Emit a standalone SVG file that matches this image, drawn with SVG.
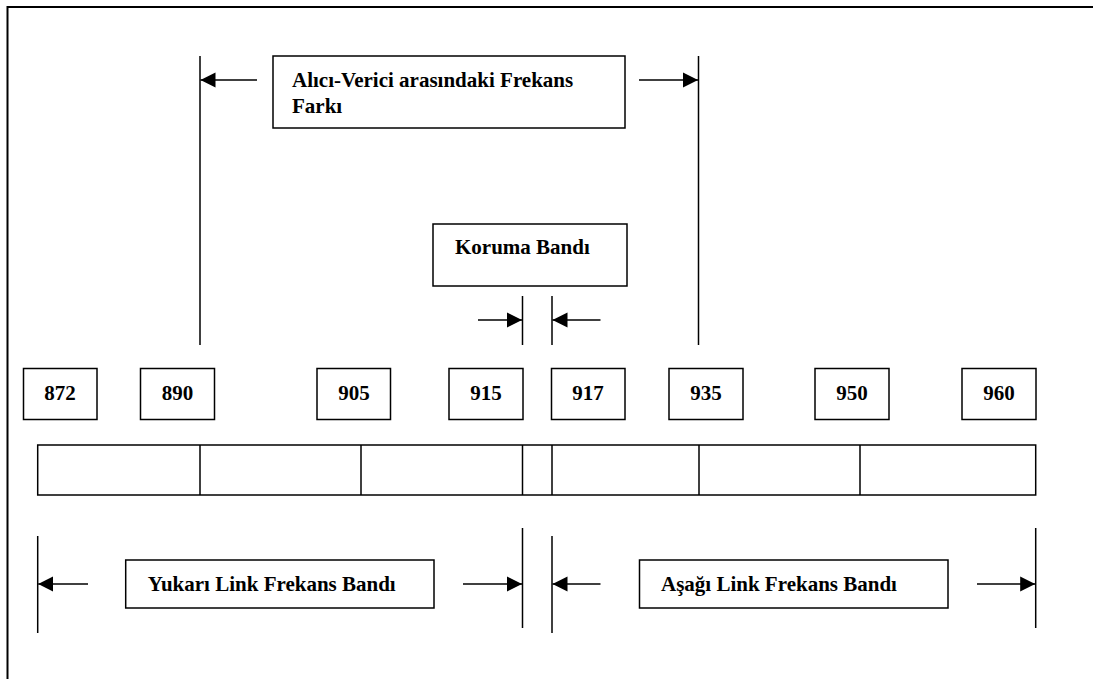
<svg xmlns="http://www.w3.org/2000/svg" width="1093" height="679" viewBox="0 0 1093 679">
<style>
.box{fill:#fff;stroke:#000;stroke-width:1.5}
.ln{stroke:#000;stroke-width:1.5;fill:none}
.t{font-family:"Liberation Serif","Times New Roman",serif;font-weight:bold;font-size:21px;fill:#000}
.n{text-anchor:middle}
</style>
<defs>
<marker id="ah" markerUnits="userSpaceOnUse" markerWidth="16" markerHeight="16" viewBox="0 0 16 16" refX="15" refY="8" orient="auto">
<path d="M0,0.5 L15,8 L0,15.5 Z" fill="#000"/>
</marker>
</defs>
<g id="frame">
<path class="ln" d="M7.5,679 V7 H1093" style="stroke-width:2"/>
</g>
<g id="connectors">
<line class="ln" x1="200" y1="56" x2="200" y2="345"/>
<line class="ln" x1="698.5" y1="56" x2="698.5" y2="345"/>
<line class="ln" x1="257" y1="80" x2="200.5" y2="80" marker-end="url(#ah)"/>
<line class="ln" x1="639" y1="80" x2="698" y2="80" marker-end="url(#ah)"/>
<line class="ln" x1="522.5" y1="296" x2="522.5" y2="345"/>
<line class="ln" x1="552" y1="296" x2="552" y2="345"/>
<line class="ln" x1="478" y1="320" x2="522" y2="320" marker-end="url(#ah)"/>
<line class="ln" x1="600.5" y1="320" x2="552.5" y2="320" marker-end="url(#ah)"/>
<line class="ln" x1="37.7" y1="536" x2="37.7" y2="633"/>
<line class="ln" x1="522.5" y1="528" x2="522.5" y2="628"/>
<line class="ln" x1="552" y1="536" x2="552" y2="633"/>
<line class="ln" x1="1035.7" y1="528" x2="1035.7" y2="628"/>
<line class="ln" x1="88" y1="584" x2="38.2" y2="584" marker-end="url(#ah)"/>
<line class="ln" x1="463" y1="584" x2="522" y2="584" marker-end="url(#ah)"/>
<line class="ln" x1="600.5" y1="584" x2="552.5" y2="584" marker-end="url(#ah)"/>
<line class="ln" x1="977" y1="584" x2="1035.2" y2="584" marker-end="url(#ah)"/>
</g>
<g id="freq-diff">
<rect class="box" x="273" y="56" width="352" height="72"/>
<text class="t" x="292" y="87">Alıcı-Verici arasındaki Frekans</text>
<text class="t" x="292" y="113">Farkı</text>
</g>
<g id="guard-band">
<rect class="box" x="433" y="224" width="194" height="62"/>
<text class="t" x="455" y="254">Koruma Bandı</text>
</g>
<g id="f872"><rect class="box" x="23.5" y="368.5" width="73.5" height="51"/><text class="t n" x="60" y="400">872</text></g>
<g id="f890"><rect class="box" x="140.5" y="368.5" width="74" height="51"/><text class="t n" x="177.5" y="400">890</text></g>
<g id="f905"><rect class="box" x="317" y="368.5" width="73.5" height="51"/><text class="t n" x="354" y="400">905</text></g>
<g id="f915"><rect class="box" x="449" y="368.5" width="74" height="51"/><text class="t n" x="486" y="400">915</text></g>
<g id="f917"><rect class="box" x="551.5" y="368.5" width="73.5" height="51"/><text class="t n" x="588" y="400">917</text></g>
<g id="f935"><rect class="box" x="669" y="368.5" width="74" height="51"/><text class="t n" x="706" y="400">935</text></g>
<g id="f950"><rect class="box" x="815" y="368.5" width="74" height="51"/><text class="t n" x="852" y="400">950</text></g>
<g id="f960"><rect class="box" x="962" y="368.5" width="74" height="51"/><text class="t n" x="999" y="400">960</text></g>
<g id="band-bar">
<rect class="box" x="37.7" y="445" width="998" height="50"/>
<line class="ln" x1="200" y1="445" x2="200" y2="495"/>
<line class="ln" x1="361" y1="445" x2="361" y2="495"/>
<line class="ln" x1="522.5" y1="445" x2="522.5" y2="495"/>
<line class="ln" x1="552" y1="445" x2="552" y2="495"/>
<line class="ln" x1="699" y1="445" x2="699" y2="495"/>
<line class="ln" x1="860" y1="445" x2="860" y2="495"/>
</g>
<g id="uplink">
<rect class="box" x="125.7" y="560" width="308.3" height="48"/>
<text class="t" x="147.7" y="591">Yukarı Link Frekans Bandı</text>
</g>
<g id="downlink">
<rect class="box" x="639.5" y="560" width="308.5" height="48"/>
<text class="t" x="661" y="591">Aşağı Link Frekans Bandı</text>
</g>
</svg>
